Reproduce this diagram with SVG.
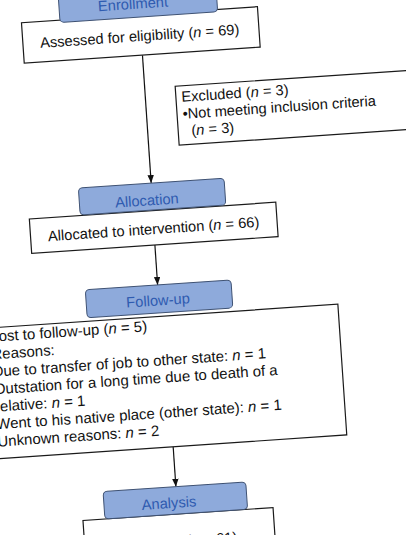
<svg xmlns="http://www.w3.org/2000/svg" width="406" height="535" viewBox="0 0 406 535">
<style>
.box{fill:#fff;stroke:#1a1a1a;stroke-width:1.2}
.tab{fill:#8eaadb;stroke:#3f5273;stroke-width:1}
.tabt{font-family:"Liberation Sans",Arial,sans-serif;font-size:14.7px;fill:#2f5bb0;text-anchor:middle}
.t{font-family:"Liberation Sans",Arial,sans-serif;font-size:14.7px;fill:#111}
.f{font-size:15px}
.m{text-anchor:middle}
.i{font-style:italic}
.c{stroke:#111;stroke-width:1.2;fill:none;marker-end:url(#ah)}
</style>
<defs>
<marker id="ah" viewBox="0 0 10 8" refX="10" refY="4" markerWidth="8" markerHeight="6.4" markerUnits="userSpaceOnUse" orient="auto">
<path d="M0,0 L10,4 L0,8 z" fill="#111"/>
</marker>
</defs>
<rect width="406" height="535" fill="#fff"/>
<g transform="rotate(-3.9 200 267)">
<g id="connectors">
<line class="c" x1="157" y1="51.7" x2="157" y2="180"/>
<line class="c" x1="156.5" y1="242" x2="156.5" y2="282"/>
<line class="c" x1="161" y1="444.5" x2="161" y2="484.5"/>
</g>
<g id="assessed">
<rect class="box" x="38.5" y="11.2" width="236.5" height="40.5"/>
<text class="t m" x="155.5" y="37.5">Assessed for eligibility (<tspan class="i">n</tspan> = 69)</text>
</g>
<g id="enrollment">
<rect class="tab" x="77" y="-16" width="158" height="29.5" rx="4"/>
<text class="tabt" x="151" y="5">Enrollment</text>
</g>
<g id="excluded">
<rect class="box" x="187.5" y="85" width="245" height="59"/>
<text class="t" x="193" y="101">Excluded (<tspan class="i">n</tspan> = 3)</text>
<text class="t" x="193" y="118">•Not meeting inclusion criteria</text>
<text class="t" x="200.7" y="135">(<tspan class="i">n</tspan> = 3)</text>
</g>
<g id="allocated">
<rect class="box" x="33" y="207.5" width="247" height="34.5"/>
<text class="t m" x="156.3" y="231">Allocated to intervention (<tspan class="i">n</tspan> = 66)</text>
</g>
<g id="allocation">
<rect class="tab" x="84" y="180" width="146" height="27" rx="4"/>
<text class="tabt" x="151.5" y="202">Allocation</text>
</g>
<g id="lost">
<rect class="box" x="-30" y="313.5" width="365" height="131"/>
<text class="t f" x="-14" y="327.5">Lost to follow-up (<tspan class="i">n</tspan> = 5)</text>
<text class="t f" x="-14" y="345">Reasons:</text>
<text class="t f" x="-14" y="362.5">Due to transfer of job to other state: <tspan class="i">n</tspan> = 1</text>
<text class="t f" x="-14" y="380">Outstation for a long time due to death of a</text>
<text class="t f" x="-14" y="397.5">relative: <tspan class="i">n</tspan> = 1</text>
<text class="t f" x="-14" y="415">Went to his native place (other state): <tspan class="i">n</tspan> = 1</text>
<text class="t f" x="-14" y="432.5">Unknown reasons: <tspan class="i">n</tspan> = 2</text>
</g>
<g id="followup">
<rect class="tab" x="84" y="282" width="146" height="28" rx="4"/>
<text class="tabt" x="155.8" y="302.5">Follow-up</text>
</g>
<g id="analysed">
<rect class="box" x="66" y="512" width="190.5" height="60"/>
<text class="t m" x="161" y="544">Analysed (<tspan class="i">n</tspan> = 61)</text>
</g>
<g id="analysis">
<rect class="tab" x="88" y="484.5" width="143" height="27.5" rx="4"/>
<text class="tabt" x="153" y="505.5">Analysis</text>
</g>
</g>
</svg>
